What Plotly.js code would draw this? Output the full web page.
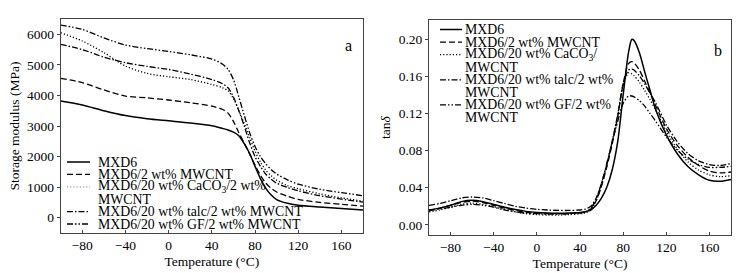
<!DOCTYPE html>
<html>
<head>
<meta charset="utf-8">
<script src="https://cdn.plot.ly/plotly-3.0.1.min.js"></script>
<style>html,body{margin:0;padding:0;background:#fff;}#chart{width:749px;height:273px;}</style>
</head>
<body>
<div id="chart"></div>
<script>
// ---------- Panel a: storage modulus (MPa) ----------
const tempA = [-100,-80,-60,-40,-20,0,20,40,50,55,60,65,70,75,80,85,90,95,100,110,120,140,160,180];
const eMXD6  = [3820,3690,3500,3340,3240,3170,3100,3010,2920,2870,2800,2680,2420,2100,1680,1280,960,740,590,470,410,350,300,250];
const eMWCNT = [4560,4420,4180,3980,3920,3850,3760,3650,3540,3420,3150,2780,2440,2080,1720,1390,1130,960,840,700,600,500,440,380];
const eCaCO3 = [6050,5780,5400,4960,4720,4610,4520,4360,4250,4150,3900,3500,3080,2620,2180,1820,1550,1370,1230,1050,950,780,650,540];
const eTalc  = [5670,5500,5250,5070,4950,4850,4700,4520,4380,4250,3950,3500,3000,2450,2000,1680,1420,1260,1130,990,880,720,610,510];
const eGF    = [6300,6160,5880,5650,5530,5440,5330,5190,5020,4850,4520,3950,3350,2780,2330,2000,1760,1570,1430,1240,1100,930,820,720];

// ---------- Panel b: tan delta ----------
const tempB = [-100,-90,-80,-70,-60,-50,-40,-30,-20,-10,0,10,20,30,40,45,50,55,60,65,70,75,80,85,88,90,95,100,105,110,120,130,140,150,160,170,180];
const tMXD6  = [0.016,0.018,0.021,0.025,0.0265,0.025,0.022,0.019,0.0165,0.0145,0.0133,0.0127,0.0125,0.0127,0.0133,0.0142,0.016,0.021,0.029,0.041,0.060,0.090,0.140,0.186,0.200,0.199,0.186,0.165,0.145,0.125,0.097,0.077,0.063,0.054,0.048,0.047,0.049];
const tMWCNT = [0.015,0.018,0.021,0.024,0.0255,0.024,0.021,0.018,0.0155,0.0135,0.0125,0.012,0.012,0.0122,0.013,0.014,0.017,0.026,0.042,0.063,0.088,0.117,0.152,0.174,0.176,0.175,0.167,0.155,0.142,0.129,0.104,0.086,0.073,0.064,0.058,0.056,0.057];
const tCaCO3 = [0.014,0.016,0.019,0.022,0.0235,0.022,0.0195,0.0165,0.014,0.012,0.011,0.0105,0.0105,0.011,0.012,0.013,0.016,0.026,0.043,0.065,0.090,0.118,0.150,0.164,0.163,0.161,0.154,0.145,0.135,0.124,0.101,0.082,0.068,0.059,0.054,0.052,0.053];
const tTalc  = [0.021,0.023,0.026,0.029,0.030,0.029,0.026,0.023,0.020,0.018,0.0167,0.016,0.0155,0.0155,0.016,0.017,0.020,0.029,0.045,0.066,0.091,0.119,0.152,0.167,0.168,0.167,0.161,0.152,0.142,0.132,0.108,0.090,0.077,0.069,0.065,0.064,0.066];
const tGF    = [0.016,0.017,0.019,0.021,0.022,0.021,0.019,0.016,0.014,0.0125,0.012,0.0115,0.0115,0.012,0.013,0.014,0.018,0.028,0.045,0.067,0.090,0.112,0.131,0.139,0.139,0.138,0.134,0.128,0.120,0.112,0.095,0.081,0.071,0.065,0.062,0.062,0.063];

// ---------- Labels ----------
const legendA = [["MXD6"],["MXD6/2 wt% MWCNT"],["MXD6/20 wt% CaCO<sub>3</sub>/2 wt%","MWCNT"],["MXD6/20 wt% talc/2 wt% MWCNT"],["MXD6/20 wt% GF/2 wt% MWCNT"]];
const legendB = [["MXD6"],["MXD6/2 wt% MWCNT"],["MXD6/20 wt% CaCO<sub>3</sub>/","MWCNT"],["MXD6/20 wt% talc/2 wt%","MWCNT"],["MXD6/20 wt% GF/2 wt%","MWCNT"]];
const xTitle = "Temperature (°C)";
const yTitleA = "Storage modulus (MPa)";
const yTitleB = "tan<i>δ</i>";
const panelLabels = ["a","b"];

// ---------- Styles ----------
const W = 749, H = 273;
const FONT = "Liberation Serif, Times New Roman, serif";
const dashes = ["solid","6px,3px","1.2px,2px","6px,2px,1.5px,2px","6px,2px,1.5px,2px,1.5px,2px"];
const widths = [1.5,1.3,1.3,1.3,1.3];

const seriesA = [eMXD6,eMWCNT,eCaCO3,eTalc,eGF];
const seriesB = [tMXD6,tMWCNT,tCaCO3,tTalc,tGF];

const traces = [];
seriesA.forEach((s,i)=>traces.push({x:tempA,y:s,xaxis:'x',yaxis:'y',mode:'lines',
  line:{color:'#000',width:widths[i],dash:dashes[i],shape:'spline',smoothing:0.8},showlegend:false,hoverinfo:'skip'}));
seriesB.forEach((s,i)=>traces.push({x:tempB,y:s,xaxis:'x2',yaxis:'y2',mode:'lines',
  line:{color:'#000',width:widths[i],dash:dashes[i],shape:'spline',smoothing:0.8},showlegend:false,hoverinfo:'skip'}));

const shapes = [], annotations = [];
function buildLegend(labels, keyX0, keyX1, textX, firstRow, rowH, keyColors, fsize){
  let row = 0;
  labels.forEach((lines,i)=>{
    const yy = 1-(firstRow+row*rowH)/H;
    shapes.push({type:'line',xref:'paper',yref:'paper',x0:keyX0/W,x1:keyX1/W,y0:yy,y1:yy,
      line:{color:keyColors[i],width:widths[i],dash:dashes[i]}});
    lines.forEach(l=>{
      annotations.push({xref:'paper',yref:'paper',x:textX/W,y:1-(firstRow+row*rowH)/H,xanchor:'left',yanchor:'middle',
        text:l,showarrow:false,font:{family:FONT,size:fsize,color:'#000'}});
      row++;
    });
  });
}
buildLegend(legendA, 67, 90, 96, 162, 12.4, ['#000','#000','#999','#000','#000'], 13.8);
buildLegend(legendB, 440, 462, 463, 29.5, 12.57, ['#000','#000','#000','#000','#000'], 13.8);

annotations.push({xref:'paper',yref:'paper',x:348/W,y:1-35/H,text:panelLabels[0],showarrow:false,font:{family:FONT,size:16,color:'#000'}});
annotations.push({xref:'paper',yref:'paper',x:724/W,y:1-40/H,text:panelLabels[1],showarrow:false,font:{family:FONT,size:16,color:'#000'}});

const axisCommon = {showline:true,mirror:true,linecolor:'#444',linewidth:1,showgrid:false,zeroline:false,
  tickfont:{family:FONT,size:13.5,color:'#000'},tickcolor:'#444',ticklen:3,tickwidth:1};
const titleFont = {family:FONT,size:13.5,color:'#000'};

const layout = {
  width:W,height:H,margin:{l:0,r:0,t:0,b:0},paper_bgcolor:'#fff',plot_bgcolor:'#fff',
  font:{family:FONT,size:13,color:'#000'},showlegend:false,
  xaxis:Object.assign({},axisCommon,{domain:[60.7/W,363/W],anchor:'y',range:[-100,180],tick0:-80,dtick:40,ticks:'inside',
    title:{text:xTitle,font:titleFont,standoff:4}}),
  yaxis:Object.assign({},axisCommon,{domain:[1-233/H,1-19/H],anchor:'x',range:[-500,6500],tick0:0,dtick:1000,ticks:'outside',tickformat:'d',
    title:{text:yTitleA,font:titleFont,standoff:4}}),
  xaxis2:Object.assign({},axisCommon,{domain:[429/W,731/W],anchor:'y2',range:[-100,180],tick0:-80,dtick:40,ticks:'inside',
    title:{text:xTitle,font:titleFont,standoff:4}}),
  yaxis2:Object.assign({},axisCommon,{domain:[1-235/H,1-20/H],anchor:'x2',range:[-0.011,0.221],tick0:0,dtick:0.04,ticks:'outside',tickformat:'.2f',
    title:{text:yTitleB,font:titleFont,standoff:4}}),
  shapes:shapes,annotations:annotations
};
Plotly.newPlot('chart',traces,layout,{staticPlot:true,displayModeBar:false});
</script>
</body>
</html>
